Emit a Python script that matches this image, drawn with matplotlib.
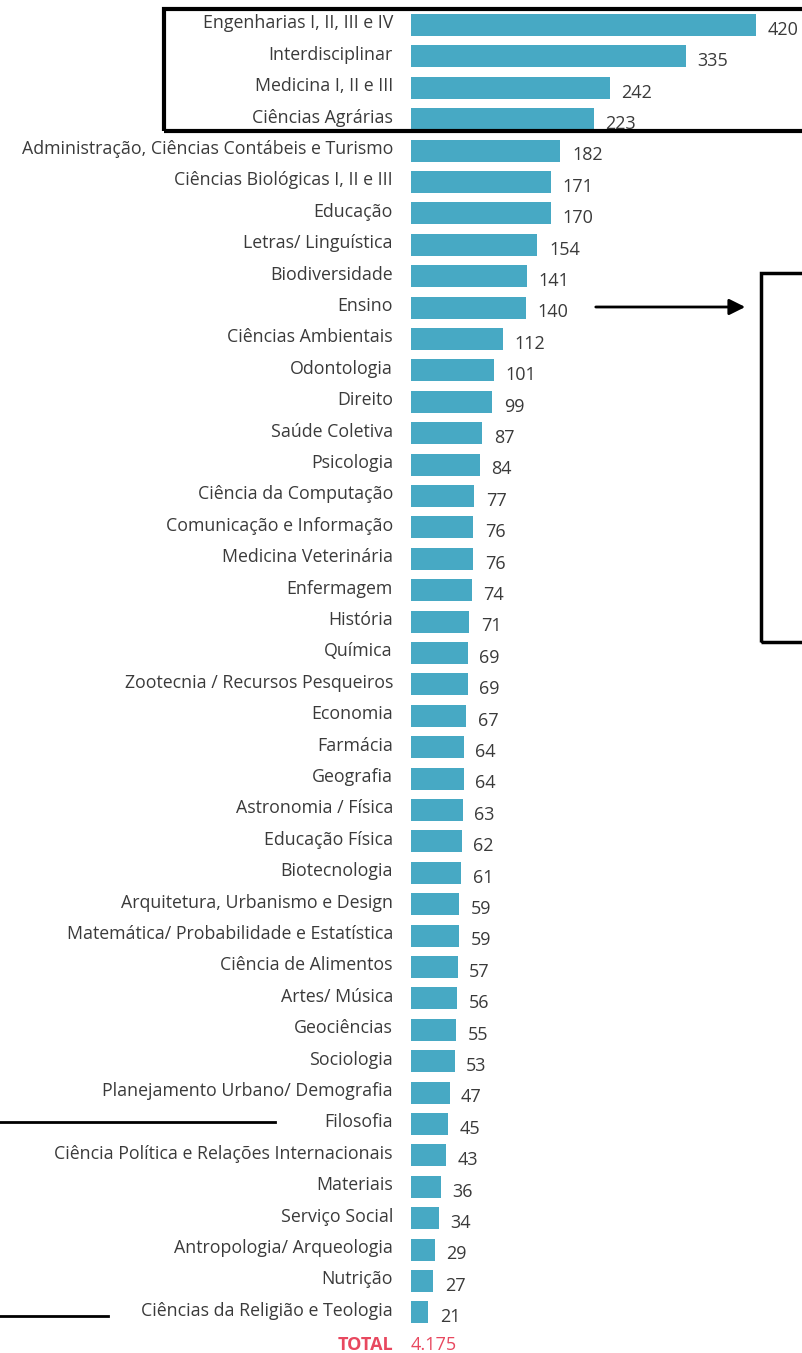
import numpy as np
import matplotlib.pyplot as plt
from matplotlib.patches import Rectangle

# Data
categories = [
    'Engenharias I, II, III e IV', 'Interdisciplinar', 'Medicina I, II e III',
    'Ciências Agrárias', 'Administração, Ciências Contábeis e Turismo',
    'Ciências Biológicas I, II e III', 'Educação', 'Letras/ Linguística',
    'Biodiversidade', 'Ensino', 'Ciências Ambientais', 'Odontologia', 'Direito',
    'Saúde Coletiva', 'Psicologia', 'Ciência da Computação',
    'Comunicação e Informação', 'Medicina Veterinária', 'Enfermagem', 'História',
    'Química', 'Zootecnia / Recursos Pesqueiros', 'Economia', 'Farmácia',
    'Geografia', 'Astronomia / Física', 'Educação Física', 'Biotecnologia',
    'Arquitetura, Urbanismo e Design', 'Matemática/ Probabilidade e Estatística',
    'Ciência de Alimentos', 'Artes/ Música', 'Geociências', 'Sociologia',
    'Planejamento Urbano/ Demografia', 'Filosofia',
    'Ciência Política e Relações Internacionais', 'Materiais', 'Serviço Social',
    'Antropologia/ Arqueologia', 'Nutrição', 'Ciências da Religião e Teologia',
]
values = [420, 335, 242, 223, 182, 171, 170, 154, 141, 140, 112, 101, 99, 87, 84,
          77, 76, 76, 74, 71, 69, 69, 67, 64, 64, 63, 62, 61, 59, 59, 57, 56, 55,
          53, 47, 45, 43, 36, 34, 29, 27, 21]
total_label = '4.175'

W, H = 802, 1353
bar_x0 = 411          # pixel where bars start
px_per_unit = 0.821   # pixels per unit
row0 = 25             # pixel centre of first row
row_step = 31.4

plt.rcParams['font.family'] = ['Open Sans', 'DejaVu Sans']

fig = plt.figure(figsize=(W / 100, H / 100), dpi=100)
ax = fig.add_axes([0, 0, 1, 1])
ax.set_xlim(-bar_x0 / px_per_unit, (W - bar_x0) / px_per_unit)
ax.set_ylim((H - row0) / row_step, -row0 / row_step)
ax.axis('off')

bar_color = '#47a9c4'
text_color = '#3a3a3a'
y = np.arange(len(categories))
ax.barh(y, values, height=0.7, color=bar_color)

for i, (cat, v) in enumerate(zip(categories, values)):
    ax.text(-22, i - 0.05, cat, ha='right', va='center', fontsize=12.8,
            color=text_color)
    ax.text(v + 14, i + 0.15, str(v), ha='left', va='center', fontsize=13,
            color=text_color)

n = len(categories)
ax.text(-22, n + 0.05, 'TOTAL', ha='right', va='center', fontsize=13,
        color='#e8485f', fontweight='bold')
ax.text(0, n + 0.05, total_label, ha='left', va='center', fontsize=13,
        color='#e8485f')

# annotation shapes (pixel positions on figure)
def fx(px):
    return px / W

def fy(py):
    return 1 - py / H

fig.patches.append(Rectangle((fx(164), fy(131)), fx(802 - 164 + 10), (131 - 9) / H,
                             transform=fig.transFigure, fill=False,
                             edgecolor='black', linewidth=3))
fig.patches.append(Rectangle((fx(761), fy(642)), fx(60), (642 - 273) / H,
                             transform=fig.transFigure, fill=False,
                             edgecolor='black', linewidth=2.5))
ax.annotate('', xy=(fx(748), fy(307)), xytext=(fx(593), fy(307)),
            xycoords='figure fraction', textcoords='figure fraction',
            arrowprops=dict(arrowstyle='-|>', color='black', lw=2,
                            mutation_scale=24))
fig.lines.append(plt.Line2D([fx(0), fx(275)], [fy(1122), fy(1122)],
                            transform=fig.transFigure, color='black', lw=2))
fig.lines.append(plt.Line2D([fx(0), fx(108)], [fy(1316), fy(1316)],
                            transform=fig.transFigure, color='black', lw=2))

fig.savefig('out.png', dpi=100)
